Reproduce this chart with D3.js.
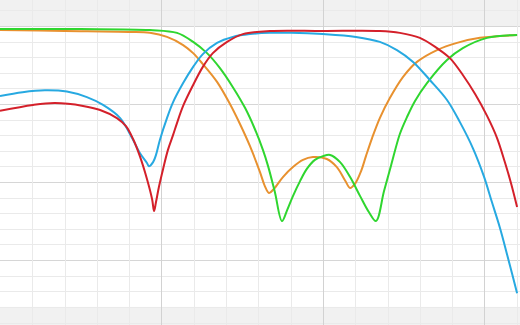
<!DOCTYPE html>
<html>
<head>
<meta charset="utf-8">
<script src="https://cdnjs.cloudflare.com/ajax/libs/d3/7.8.5/d3.min.js"></script>
<style>
    html, body { margin: 0; padding: 0; background: #ffffff; }
    svg { display: block; }
</style>
</head>
<body>
<div id="chart"></div>
<script>
// x in grid divisions, y in dB (one minor division = 5 dB)
var xMax = 16.1;
var yTop = 8.33, yBottom = -95.8;
var bandTop = 0, bandBottom = -90;
var xTicks = d3.range(1, 17);
var yTicks = d3.range(-100, 10, 5);

var redX = [0, 1.02, 1.70, 2.57, 3.10, 3.62, 3.90, 4.12, 4.33, 4.55, 4.71, 4.77, 4.83, 4.92, 5.05, 5.20, 5.36, 5.48, 5.67, 5.98, 6.28, 6.59, 7.03, 7.52, 8.36, 10.0, 11.76, 12.38, 13.0, 13.53, 13.93, 14.33, 14.71, 15.08, 15.39, 15.63, 15.82, 16.01];
var redY = [-27.2, -25.3, -24.7, -25.6, -26.9, -29.5, -32.1, -36.2, -41.7, -49.0, -55.5, -59.3, -56.4, -51.6, -45.8, -39.7, -34.9, -31.1, -25.6, -18.9, -13.1, -8.7, -5.1, -2.6, -1.6, -1.6, -1.6, -2.2, -3.8, -7.1, -10.3, -15.7, -21.8, -28.8, -35.9, -43.6, -50.3, -58.0];

var blueX = [0, 0.70, 1.39, 2.07, 2.69, 3.19, 3.72, 4.09, 4.33, 4.55, 4.61, 4.74, 4.83, 4.95, 5.17, 5.36, 5.67, 5.98, 6.28, 6.72, 7.21, 7.74, 8.36, 9.01, 10.0, 11.02, 11.76, 12.29, 12.79, 13.31, 13.84, 14.24, 14.64, 14.98, 15.23, 15.48, 15.73, 16.01];
var blueY = [-22.4, -21.2, -20.6, -21.0, -22.8, -25.3, -29.5, -35.9, -40.7, -43.9, -44.9, -43.6, -41.3, -36.5, -29.5, -24.4, -18.3, -13.1, -9.0, -5.4, -3.5, -2.6, -2.2, -2.2, -2.6, -3.5, -5.1, -7.7, -11.5, -17.3, -23.7, -30.8, -39.1, -48.1, -56.4, -64.7, -74.4, -85.6];

var orangeX = [0, 2.01, 3.99, 4.64, 5.17, 5.67, 5.98, 6.28, 6.72, 7.12, 7.43, 7.74, 8.05, 8.20, 8.33, 8.48, 8.76, 9.07, 9.38, 9.69, 10.12, 10.43, 10.68, 10.84, 10.99, 11.18, 11.33, 11.52, 11.76, 12.07, 12.48, 12.91, 13.53, 14.15, 14.86, 16.01];
var orangeY = [-1.3, -1.6, -1.9, -2.2, -3.5, -6.1, -8.7, -12.2, -17.9, -25.0, -31.4, -38.5, -46.8, -51.3, -53.5, -52.2, -48.4, -45.2, -42.9, -42.0, -42.6, -45.2, -49.4, -51.9, -50.6, -46.5, -41.7, -35.9, -29.5, -23.1, -16.3, -11.5, -7.7, -5.4, -3.8, -2.9];

var greenX = [0, 2.48, 4.64, 5.48, 5.98, 6.41, 6.81, 7.21, 7.59, 7.89, 8.14, 8.30, 8.51, 8.73, 8.89, 9.07, 9.29, 9.50, 9.75, 10.0, 10.22, 10.53, 10.84, 11.15, 11.42, 11.64, 11.89, 12.11, 12.38, 12.60, 12.85, 13.22, 13.84, 14.33, 15.08, 16.01];
var greenY = [-1.0, -1.0, -1.3, -2.2, -5.1, -8.7, -13.5, -19.6, -26.3, -33.0, -39.7, -44.9, -53.2, -62.5, -59.0, -54.5, -49.7, -45.8, -42.9, -41.7, -41.3, -43.6, -48.4, -54.5, -59.6, -62.5, -52.9, -44.6, -34.6, -29.2, -24.0, -18.3, -10.9, -7.1, -3.8, -2.9];

var seriesNames = ['orange', 'green', 'blue', 'red'];
var seriesColors = ['#e8912f', '#2fd62f', '#27a9e1', '#d4202a'];
var seriesX = [orangeX, greenX, blueX, redX];
var seriesY = [orangeY, greenY, blueY, redY];

var width = 520, height = 325;

var svg = d3.select('#chart').append('svg')
    .attr('width', width)
    .attr('height', height);

var x = d3.scaleLinear().domain([0, xMax]).range([0, width]);
var y = d3.scaleLinear().domain([yBottom, yTop]).range([height, 0]);

// out-of-range bands
svg.append('rect')
    .attr('x', 0).attr('y', 0)
    .attr('width', width).attr('height', y(bandTop))
    .attr('fill', '#f1f1f1');
svg.append('rect')
    .attr('x', 0).attr('y', y(bandBottom))
    .attr('width', width).attr('height', height - y(bandBottom))
    .attr('fill', '#f1f1f1');

var grid = svg.append('g').attr('class', 'grid');

grid.selectAll('line.h')
    .data(yTicks)
    .enter().append('line')
    .attr('class', 'h')
    .attr('x1', 0).attr('x2', width)
    .attr('y1', function (d) { return Math.round(y(d)) + 0.5; })
    .attr('y2', function (d) { return Math.round(y(d)) + 0.5; })
    .attr('stroke', function (d) { return d % 25 === 0 ? '#d6d6d6' : '#eaeaea'; })
    .attr('stroke-width', 1);

grid.selectAll('line.v')
    .data(xTicks)
    .enter().append('line')
    .attr('class', 'v')
    .attr('y1', 0).attr('y2', height)
    .attr('x1', function (d) { return Math.round(x(d)) + 0.5; })
    .attr('x2', function (d) { return Math.round(x(d)) + 0.5; })
    .attr('stroke', function (d) { return d % 5 === 0 ? '#d2d2d2' : '#eaeaea'; })
    .attr('stroke-width', 1);

var line = d3.line()
    .x(function (d) { return x(d[0]); })
    .y(function (d) { return y(d[1]); })
    .curve(d3.curveCatmullRom.alpha(0.5));

seriesNames.forEach(function (name, i) {
    var points = seriesX[i].map(function (v, j) {
        return [v, seriesY[i][j]];
    });
    svg.append('path')
        .datum(points)
        .attr('class', 'line ' + name)
        .attr('fill', 'none')
        .attr('stroke', seriesColors[i])
        .attr('stroke-width', 2)
        .attr('stroke-linejoin', 'round')
        .attr('d', line);
});
</script>
</body>
</html>
